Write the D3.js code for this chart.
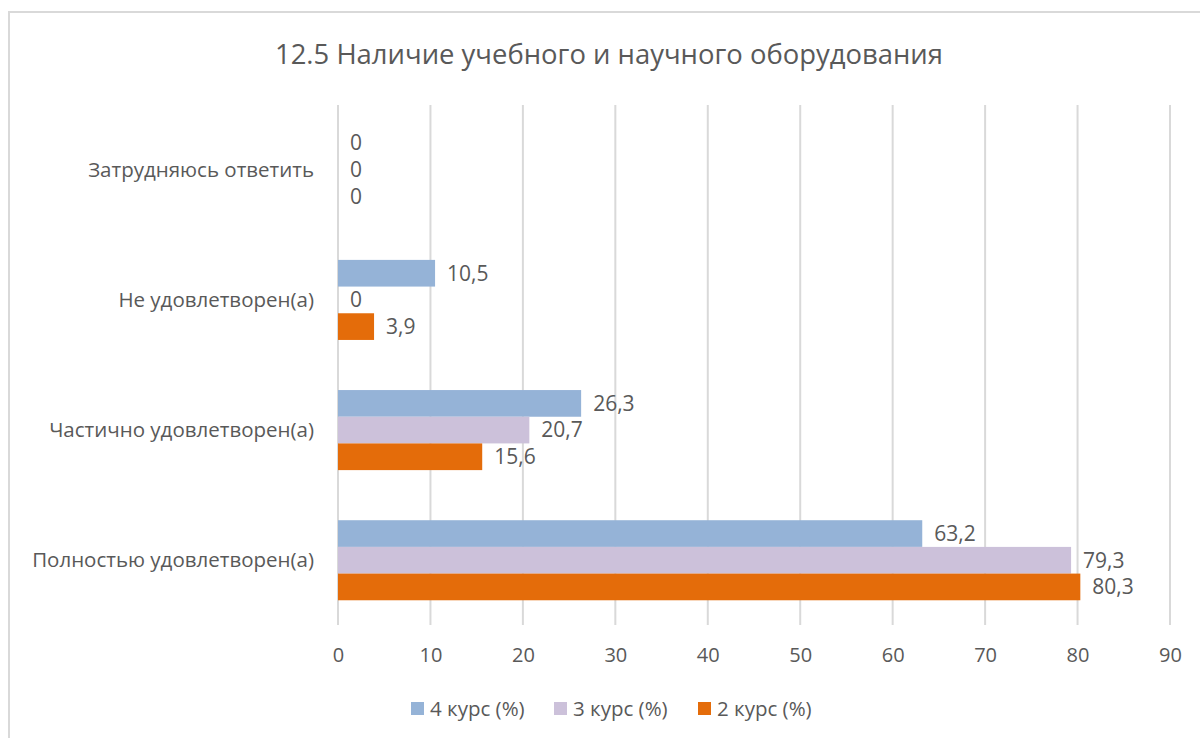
<!DOCTYPE html>
<html><head><meta charset="utf-8">
<script src="https://cdn.jsdelivr.net/npm/d3@7"></script>
<style>body{margin:0;background:#fff;} svg{display:block;font-family:"Open Sans",sans-serif;}</style>
</head><body>
<script>
const title = "12.5 Наличие учебного и научного оборудования";
const categories = ["Затрудняюсь ответить","Не удовлетворен(а)","Частично удовлетворен(а)","Полностью удовлетворен(а)"];
const seriesNames = ["4 курс (%)","3 курс (%)","2 курс (%)"];
const course4 = [0, 10.5, 26.3, 63.2];
const course3 = [0, 0, 20.7, 79.3];
const course2 = [0, 3.9, 15.6, 80.3];
const xTicks = [0,10,20,30,40,50,60,70,80,90];
const colors = ["#95b3d7","#ccc1da","#e46c0a"];

(function(){
const W=1200,H=738;
const svg=d3.select("body").append("svg").attr("width",W).attr("height",H);
svg.append("rect").attr("x",9).attr("y",12).attr("width",1400).attr("height",1000)
  .attr("fill","#fff").attr("stroke","#d9d9d9").attr("stroke-width",2);

const pl=338,pr=1170,pt=105,pb=625;
const x=d3.scaleLinear().domain([0,90]).range([pl,pr]);
const y=d3.scaleBand().domain(categories).range([pt,pb]).paddingInner(0.385).paddingOuter(0.19);
const ySub=d3.scaleBand().domain(seriesNames).range([0,y.bandwidth()]);

svg.append("text").attr("x",609).attr("y",64).attr("text-anchor","middle")
  .attr("fill","#595959").style("font-size","27px").attr("textLength",668).attr("lengthAdjust","spacingAndGlyphs").text(title);

svg.append("g").selectAll("line").data(xTicks).join("line")
  .attr("x1",d=>x(d)).attr("x2",d=>x(d)).attr("y1",pt).attr("y2",pb)
  .attr("stroke","#d9d9d9").attr("stroke-width",2);

const axis=d3.axisBottom(x).tickValues(xTicks).tickSize(0).tickPadding(23);
const ag=svg.append("g").attr("transform",`translate(0,${pb})`).call(axis);
ag.select(".domain").remove();
ag.selectAll("text").attr("fill","#595959").style("font-size","20px").style("font-family","Open Sans");

svg.append("g").selectAll("text").data(categories).join("text")
  .attr("x",314).attr("y",d=>y(d)+y.bandwidth()/2).attr("dy","0.35em")
  .attr("text-anchor","end").attr("fill","#595959").style("font-size","20.5px").text(d=>d);

const series=[course4,course3,course2];
const data=[];
series.forEach((s,si)=>s.forEach((v,ci)=>data.push({s:seriesNames[si],si,c:categories[ci],v})));

svg.append("g").selectAll("rect").data(data.filter(d=>d.v>0)).join("rect")
  .attr("x",x(0)).attr("y",d=>y(d.c)+ySub(d.s)).attr("width",d=>x(d.v)-x(0)).attr("height",ySub.bandwidth())
  .attr("fill",d=>colors[d.si]);

const fmt=v=>String(v).replace(".",",");
svg.append("g").selectAll("text").data(data).join("text")
  .attr("x",d=>x(d.v)+12).attr("y",d=>y(d.c)+ySub(d.s)+ySub.bandwidth()/2).attr("dy","0.35em")
  .attr("fill","#595959").style("font-size","21px").text(d=>fmt(d.v));

const legX=[411,554,698];
const lg=svg.append("g").selectAll("g").data(seriesNames).join("g").attr("transform",(d,i)=>`translate(${legX[i]},709)`);
lg.append("rect").attr("x",0).attr("y",-7).attr("width",13).attr("height",13).attr("fill",(d,i)=>colors[i]);
lg.append("text").attr("x",19).attr("dy","0.35em").attr("fill","#595959").style("font-size","20.5px").text(d=>d);
})();
</script>
</body></html>
